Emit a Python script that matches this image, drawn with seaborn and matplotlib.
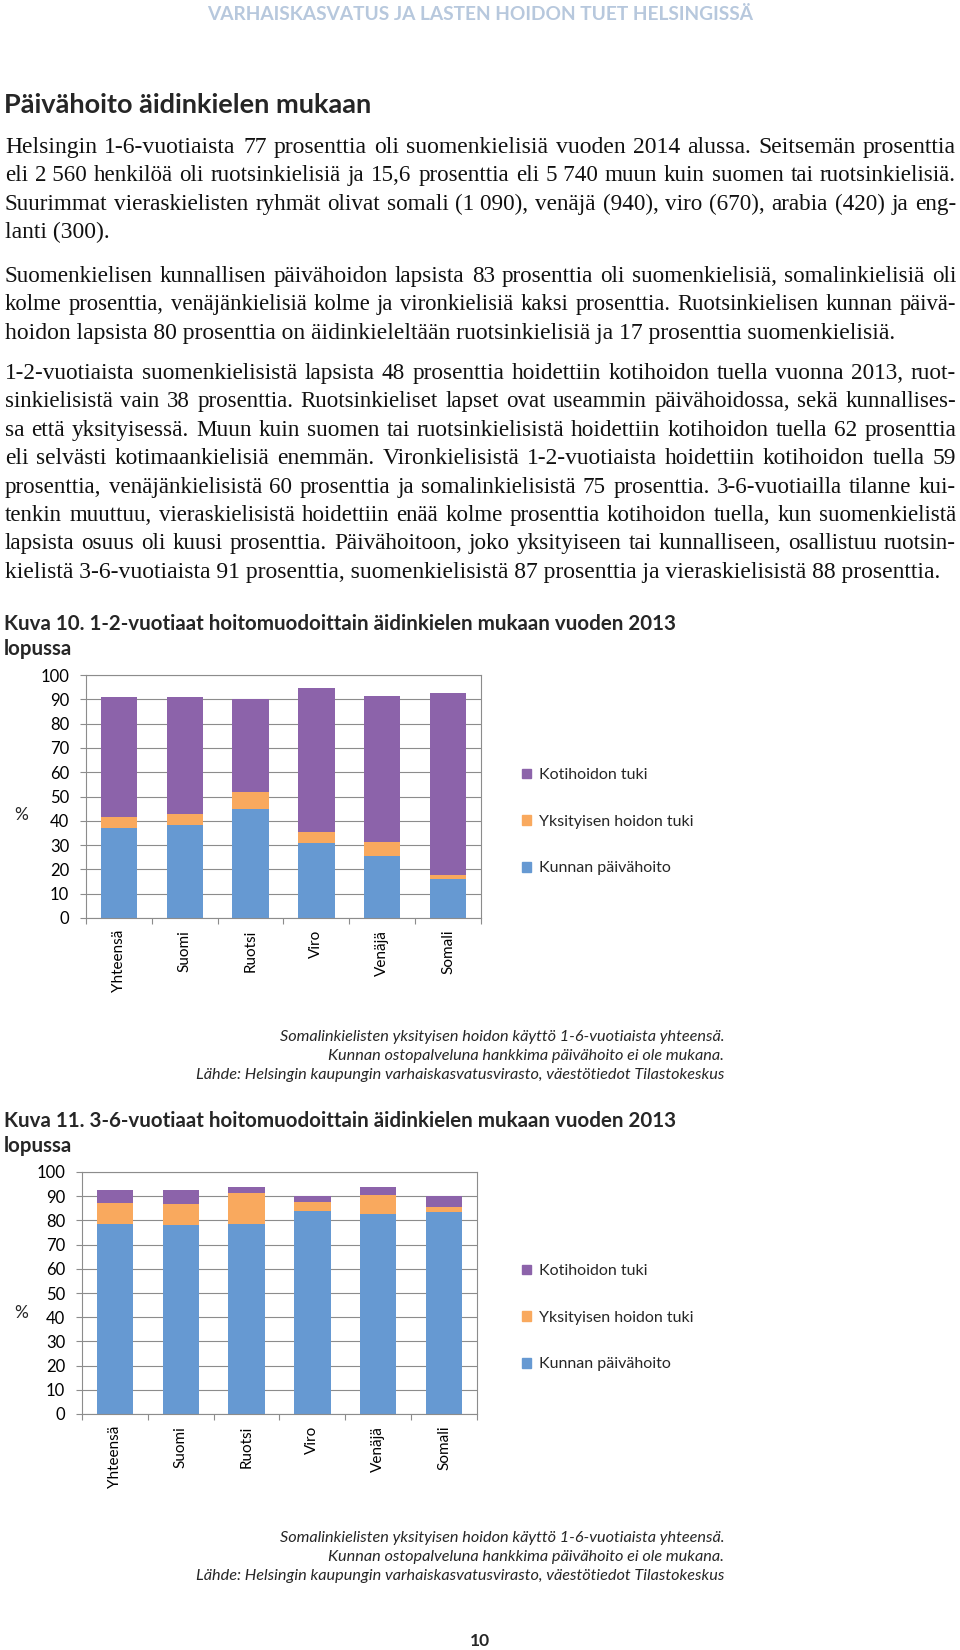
import numpy as np
import pandas as pd
import matplotlib
matplotlib.use('Agg')
import matplotlib.pyplot as plt
import seaborn as sns
from matplotlib.patches import Patch

# --- data ---
kielet = ['Yhteensä', 'Suomi', 'Ruotsi', 'Viro', 'Venäjä', 'Somali']
sarjat = ['Kotihoidon tuki', 'Yksityisen hoidon tuki', 'Kunnan päivähoito']

# Kuva 10, 1-2-vuotiaat (%)
kunnan_12 = [37.0, 38.4, 44.9, 31.0, 25.5, 15.9]
yksit_12 = [4.4, 4.5, 7.0, 4.5, 5.9, 1.9]
koti_12 = [49.4, 48.0, 38.4, 59.0, 60.0, 74.7]

# Kuva 11, 3-6-vuotiaat (%)
kunnan_36 = [78.4, 77.9, 78.6, 83.8, 82.7, 83.5]
yksit_36 = [8.8, 8.8, 12.6, 4.0, 8.0, 1.9]
koti_36 = [5.2, 6.0, 2.5, 2.2, 3.0, 4.8]

otsikko = 'Päivähoito äidinkielen mukaan'
ylaotsikko = 'VARHAISKASVATUS JA LASTEN HOIDON TUET HELSINGISSÄ'

kappale1 = [
    'Helsingin 1-6-vuotiaista 77 prosenttia oli suomenkielisiä vuoden 2014 alussa. Seitsemän prosenttia',
    'eli 2\u00a0560 henkilöä oli ruotsinkielisiä ja 15,6 prosenttia eli 5\u00a0740 muun kuin suomen tai ruotsinkielisiä.',
    'Suurimmat vieraskielisten ryhmät olivat somali (1\u00a0090), venäjä (940), viro (670), arabia (420) ja eng-',
    'lanti (300).',
]
kappale2 = [
    'Suomenkielisen kunnallisen päivähoidon lapsista 83 prosenttia oli suomenkielisiä, somalinkielisiä oli',
    'kolme prosenttia, venäjänkielisiä kolme ja vironkielisiä kaksi prosenttia. Ruotsinkielisen kunnan päivä-',
    'hoidon lapsista 80 prosenttia on äidinkieleltään ruotsinkielisiä ja 17 prosenttia suomenkielisiä.',
]
kappale3 = [
    '1-2-vuotiaista suomenkielisistä lapsista 48 prosenttia hoidettiin kotihoidon tuella vuonna 2013, ruot-',
    'sinkielisistä vain 38 prosenttia. Ruotsinkieliset lapset ovat useammin päivähoidossa, sekä kunnallises-',
    'sa että yksityisessä. Muun kuin suomen tai ruotsinkielisistä hoidettiin kotihoidon tuella 62 prosenttia',
    'eli selvästi kotimaankielisiä enemmän. Vironkielisistä 1-2-vuotiaista hoidettiin kotihoidon tuella 59',
    'prosenttia, venäjänkielisistä 60 prosenttia ja somalinkielisistä 75 prosenttia. 3-6-vuotiailla tilanne kui-',
    'tenkin muuttuu, vieraskielisistä hoidettiin enää kolme prosenttia kotihoidon tuella, kun suomenkielistä',
    'lapsista osuus oli kuusi prosenttia. Päivähoitoon, joko yksityiseen tai kunnalliseen, osallistuu ruotsin-',
    'kielistä 3-6-vuotiaista 91 prosenttia, suomenkielisistä 87 prosenttia ja vieraskielisistä 88 prosenttia.',
]
alaviite = [
    'Somalinkielisten yksityisen hoidon käyttö 1-6-vuotiaista yhteensä.',
    'Kunnan ostopalveluna hankkima päivähoito ei ole mukana.',
    'Lähde: Helsingin kaupungin varhaiskasvatusvirasto, väestötiedot Tilastokeskus',
]

BLUE = '#6699d2'
ORANGE = '#f9a95e'
PURPLE = '#8c63aa'
GRID = '#8c8c8c'

W, H = 960, 1650

sns.set_theme(style='white')
plt.rcParams['font.family'] = ['Lato', 'DejaVu Sans']

fig = plt.figure(figsize=(W / 100, H / 100), dpi=100)
renderer = fig.canvas.get_renderer()


def fx(x):
    return x / W


def fy(y):
    return 1 - y / H


def rivi(text, y, justify, x0=5, x1=956, fontsize=17, **kw):
    # one text line, optionally justified word by word
    koko = fig.text(fx(x0), fy(y), text, va='baseline', fontsize=fontsize, **kw)
    w = koko.get_window_extent(renderer).width
    if w > (x1 - x0) * 0.985:
        fontsize = fontsize * (x1 - x0) * 0.985 / w
        koko.set_fontsize(fontsize)
    if not justify:
        return
    koko.remove()
    sanat = text.split(' ')
    objs = [fig.text(0, fy(y), s, va='baseline', fontsize=fontsize, **kw) for s in sanat]
    lev = [o.get_window_extent(renderer).width for o in objs]
    vali = (x1 - x0 - sum(lev)) / (len(sanat) - 1)
    x = x0
    for o, wd in zip(objs, lev):
        o.set_x(fx(x))
        x += wd + vali


def kappale(rivit, y0, vali=28.4, viimeinen=False):
    tk = dict(family='Liberation Serif', color='#111111')
    for i, r in enumerate(rivit):
        just = i < len(rivit) - 1 or viimeinen
        rivi(r, y0 + i * vali, just, **tk)


def kuva(top, bottom, left, right, kunnan, yksit, koti, otsikot, oy, leg_y, pros_y):
    ax = fig.add_axes([fx(left), fy(bottom), fx(right - left), (bottom - top) / H])
    df = pd.DataFrame({'kieli': kielet, 'kunnan': kunnan, 'yksit': yksit, 'koti': koti})
    df['k2'] = df['kunnan'] + df['yksit']
    df['k3'] = df['k2'] + df['koti']
    for col, c in [('k3', PURPLE), ('k2', ORANGE), ('kunnan', BLUE)]:
        sns.barplot(data=df, x='kieli', y=col, color=c, saturation=1, width=0.55,
                    errorbar=None, linewidth=0, ax=ax)
    ax.set_xlim(-0.5, 5.5)
    ax.set_ylim(0, 100)
    ax.set_yticks(range(0, 101, 10))
    ax.set_axisbelow(True)
    ax.yaxis.grid(True, color=GRID, lw=0.8)
    for s in ax.spines.values():
        s.set_color(GRID)
        s.set_linewidth(0.8)
    ax.set_xlabel('')
    ax.set_ylabel('')
    ax.set_xticks(range(6))
    ax.set_xticklabels(kielet, rotation=90)
    ax.set_xticks(np.arange(-0.5, 6, 1), minor=True)
    ax.tick_params(axis='x', which='major', length=0, pad=8.5, labelsize=11, labelcolor='black')
    ax.tick_params(axis='x', which='minor', length=4, width=0.8, color=GRID, direction='out', bottom=True)
    ax.tick_params(axis='y', length=4, width=0.8, color=GRID, direction='out', left=True,
                   pad=8, labelsize=12, labelcolor='black')

    for i, t in enumerate(otsikot):
        fig.text(fx(4), fy(oy + i * 25), t, fontsize=14.75, fontweight='bold', va='center')
    fig.text(fx(21), fy(pros_y), '%', fontsize=12.5, va='center', ha='center')

    kahvat = [Patch(color=c) for c in [PURPLE, ORANGE, BLUE]]
    ax.legend(kahvat, sarjat, loc='upper left', bbox_to_anchor=(fx(522), fy(leg_y - 6)),
              bbox_transform=fig.transFigure, frameon=False, fontsize=11.5,
              borderpad=0, borderaxespad=0, handlelength=0.55, handleheight=0.55,
              handletextpad=0.5, labelspacing=2.05)
    return ax


# header and body text
fig.text(0.5, fy(14), ylaotsikko, ha='center', va='center', fontsize=13.8,
         fontweight='bold', color='#b7c8dd')
fig.text(fx(4), fy(105), otsikko, va='center', fontsize=19.5, fontweight='bold')

kappale(kappale1, 153)
kappale(kappale2, 282)
kappale(kappale3, 379)

kuva(675, 918, 86, 481, kunnan_12, yksit_12, koti_12,
     ['Kuva 10. 1-2-vuotiaat hoitomuodoittain äidinkielen mukaan vuoden 2013', 'lopussa'],
     624, 774, 815)
kuva(1172, 1414, 82, 477, kunnan_36, yksit_36, koti_36,
     ['Kuva 11. 3-6-vuotiaat hoitomuodoittain äidinkielen mukaan vuoden 2013', 'lopussa'],
     1121, 1270, 1313)

for y0 in (1037, 1538):
    for i, t in enumerate(alaviite):
        fig.text(fx(724), fy(y0 + i * 19), t, ha='right', va='center', fontsize=11.7, style='italic')

fig.text(0.5, fy(1641), '10', ha='center', va='center', fontsize=12.5, fontweight='bold')

fig.savefig('out.png', dpi=100, facecolor='white')
